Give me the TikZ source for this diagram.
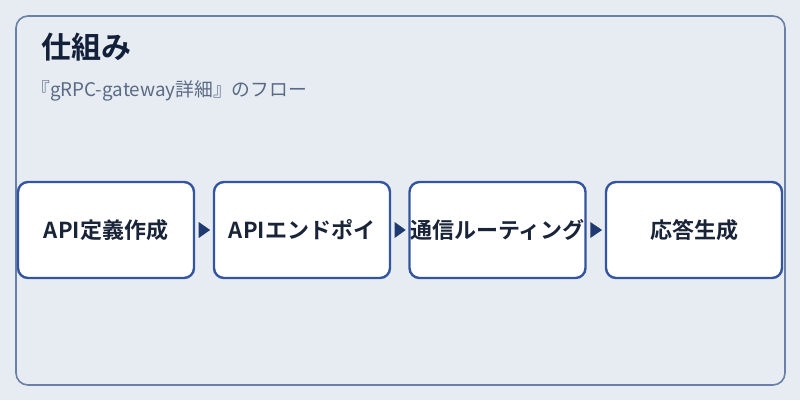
\documentclass[tikz,border=0pt]{standalone}
\usepackage{fontspec}
\usetikzlibrary{calc}
\setmainfont{Noto Sans CJK JP}
\newfontfamily\jpb{Noto Sans CJK JP Bold}
\definecolor{bgc}{HTML}{E6ECF2}
\definecolor{framec}{HTML}{6A80A8}
\definecolor{boxc}{HTML}{3355A0}
\definecolor{arrc}{HTML}{1F3A70}
\definecolor{titlec}{HTML}{13203A}
\definecolor{subc}{HTML}{5A6A85}
\definecolor{txtc}{HTML}{1A2438}
\tikzset{
  stepbox/.style={draw=boxc, line width=2.4pt, fill=white, rounded corners=10pt,
    minimum width=176pt, minimum height=96pt, inner sep=0pt, text=txtc,
    font=\jpb\fontsize{22pt}{26pt}\selectfont},
  flowarr/.style={fill=arrc, draw=none}
}
\begin{document}
\begin{tikzpicture}[x=1pt,y=-1pt]
\useasboundingbox (0,0) rectangle (800,400);
\fill[bgc] (0,0) rectangle (800,400);
\draw[framec, line width=1.6pt, rounded corners=12pt] (16,16) rectangle (785,385);
\node[anchor=base west, text=titlec, font=\jpb\fontsize{30pt}{34pt}\selectfont, inner sep=0pt] (title) at (41,58) {仕組み};
\node[anchor=base west, text=subc, font=\fontsize{18.8pt}{22pt}\selectfont, inner sep=0pt] (sub) at (31,96) {『gRPC-gateway詳細』のフロー};
\node[stepbox] (b1) at (106,230) {API定義作成};
\node[stepbox] (b2) at (302,230) {APIエンドポイ};
\node[stepbox] (b3) at (497.5,230) {通信ルーティング};
\node[stepbox] (b4) at (694,230) {応答生成};
\foreach \a/\b in {b1/b2,b2/b3,b3/b4}{
  \path (\a.east) -- (\b.west) coordinate[pos=0.2] (p0) coordinate[pos=0.85] (p1);
  \fill[flowarr] ($(p0)+(0,-8)$) -- ($(p1)$) -- ($(p0)+(0,8)$) -- cycle;
}
\end{tikzpicture}
\end{document}
